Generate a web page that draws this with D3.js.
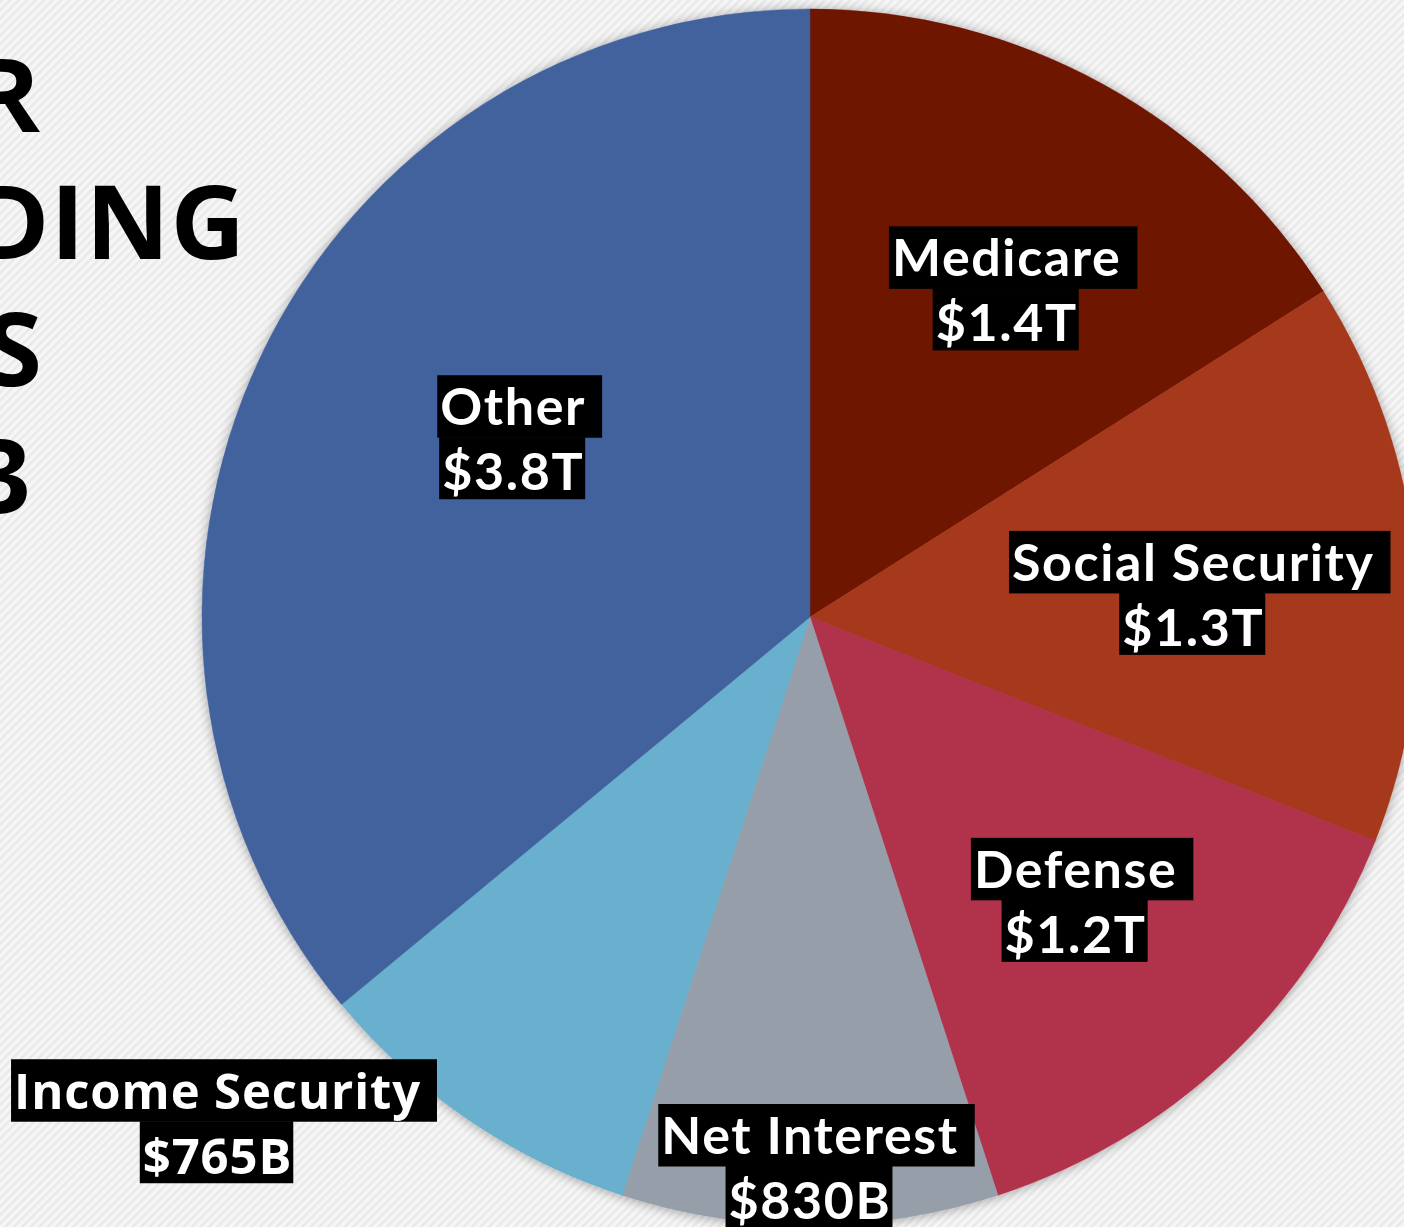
<!DOCTYPE html>
<html>
<head>
<meta charset="utf-8">
<script src="https://cdn.jsdelivr.net/npm/d3@7"></script>
<style>
  html, body { margin: 0; padding: 0; overflow: hidden; background: #f3f3f3; }
  svg { display: block; }
</style>
</head>
<body>
<svg id="chart" width="1404" height="1227"></svg>
<script>
// ---- data ----
const categories = ["Medicare", "Social Security", "Defense", "Net Interest", "Income Security", "Other"];
const shares = [16, 15, 14, 10, 9, 36];           // percent of spending (slice sizes)
const amountLabels = ["$1.4T", "$1.3T", "$1.2T", "$830B", "$765B", "$3.8T"];
const colors = ["#6e1200", "#a6391b", "#b1314b", "#969fa9", "#67b0ce", "#42629d"];
const titleLines = ["MAJOR", "SPENDING", "AREAS", "2023"];

// ---- layout ----
const W = 1404, H = 1227;
const cx = 810, cy = 617, R = 608;
const svg = d3.select("#chart");
const defs = svg.append("defs");

// diagonal stripe background
const pat = defs.append("pattern").attr("id", "stripes")
  .attr("width", 6).attr("height", 6)
  .attr("patternUnits", "userSpaceOnUse")
  .attr("patternTransform", "rotate(45)");
pat.append("rect").attr("width", 6).attr("height", 6).attr("fill", "#f6f6f6");
pat.append("rect").attr("width", 2.5).attr("height", 6).attr("fill", "#e9e9e9");
svg.append("rect").attr("width", W).attr("height", H).attr("fill", "url(#stripes)");

// soft shadow around the pie
const f = defs.append("filter").attr("id", "glow")
  .attr("x", "-10%").attr("y", "-10%").attr("width", "120%").attr("height", "120%");
f.append("feGaussianBlur").attr("in", "SourceAlpha").attr("stdDeviation", 6).attr("result", "b");
f.append("feOffset").attr("in", "b").attr("dx", 0).attr("dy", 1).attr("result", "o");
f.append("feComponentTransfer").attr("in", "o").attr("result", "s")
  .append("feFuncA").attr("type", "linear").attr("slope", 0.35);
const fm = f.append("feMerge");
fm.append("feMergeNode").attr("in", "s");
fm.append("feMergeNode").attr("in", "SourceGraphic");

// title (cropped at the left edge, as in the original slide)
const title = svg.append("g");
const titleRight = [41, 246, 43, 32];
const titleBase = [132, 259, 386, 513];
titleLines.forEach((t, i) => {
  title.append("text")
    .attr("x", titleRight[i]).attr("y", titleBase[i])
    .attr("text-anchor", "end")
    .attr("font-family", "'Open Sans', sans-serif")
    .attr("font-weight", 700)
    .attr("font-size", 103)
    .attr("letter-spacing", 1)
    .attr("fill", "#000")
    .text(t);
});

// pie
const data = categories.map((c, i) => ({ name: c, value: shares[i], amount: amountLabels[i], color: colors[i] }));
const pie = d3.pie().value(d => d.value).sort(null);
const arcs = pie(data);
const arc = d3.arc().innerRadius(0).outerRadius(R);

const g = svg.append("g").attr("transform", `translate(${cx},${cy})`);
g.append("g").attr("filter", "url(#glow)")
  .selectAll("path").data(arcs).join("path")
  .attr("d", arc)
  .attr("fill", d => d.data.color)
  .attr("stroke", d => d.data.color)
  .attr("stroke-width", 0.5);

// label placement (radius and angular nudge per category)
const labelPlace = {
  "Medicare":        { r: 383, da: 2.1 },
  "Social Security": { r: 384, da: 1.8 },
  "Defense":         { r: 388, da: 0 },
  "Net Interest":    { r: 549, da: 0 },
  "Income Security": { r: 778, da: 15.4 },
  "Other":           { r: 347, da: 6.0 }
};
const isAlt = name => name === "Income Security";
const fontFor = name => isAlt(name) ? "'Open Sans', sans-serif" : "Lato, sans-serif";
const sizeFor = name => isAlt(name) ? 49 : 52;
const spacingFor = name => isAlt(name) ? 0.9 : 1.6;

const lineH = 62;
arcs.forEach(a => {
  const p = labelPlace[a.data.name];
  const mid = (a.startAngle + a.endAngle) / 2 + p.da * Math.PI / 180;
  const [lx, ly] = d3.arc().innerRadius(p.r).outerRadius(p.r).startAngle(mid).endAngle(mid).centroid();
  const lg = g.append("g").attr("transform", `translate(${lx},${ly})`);
  const lines = [a.data.name, a.data.amount];
  lines.forEach((t, i) => {
    const top = -lineH + i * lineH;
    const bg = lg.append("rect").attr("fill", "#000");
    const tx = lg.append("text")
      .attr("x", 0).attr("y", top + (i === 0 ? 50 : 53))
      .attr("text-anchor", "middle")
      .attr("font-family", fontFor(a.data.name))
      .attr("font-weight", 700)
      .attr("font-size", sizeFor(a.data.name))
      .attr("letter-spacing", spacingFor(a.data.name))
      .attr("fill", "#fff")
      .text(t);
    const bb = tx.node().getBBox();
    const trail = i === 0 ? 15 : 0;
    bg.attr("x", bb.x - 3).attr("y", top)
      .attr("width", bb.width + 4 + trail).attr("height", lineH + (i === 0 ? 0.5 : 0));
  });
});
</script>
</body>
</html>
